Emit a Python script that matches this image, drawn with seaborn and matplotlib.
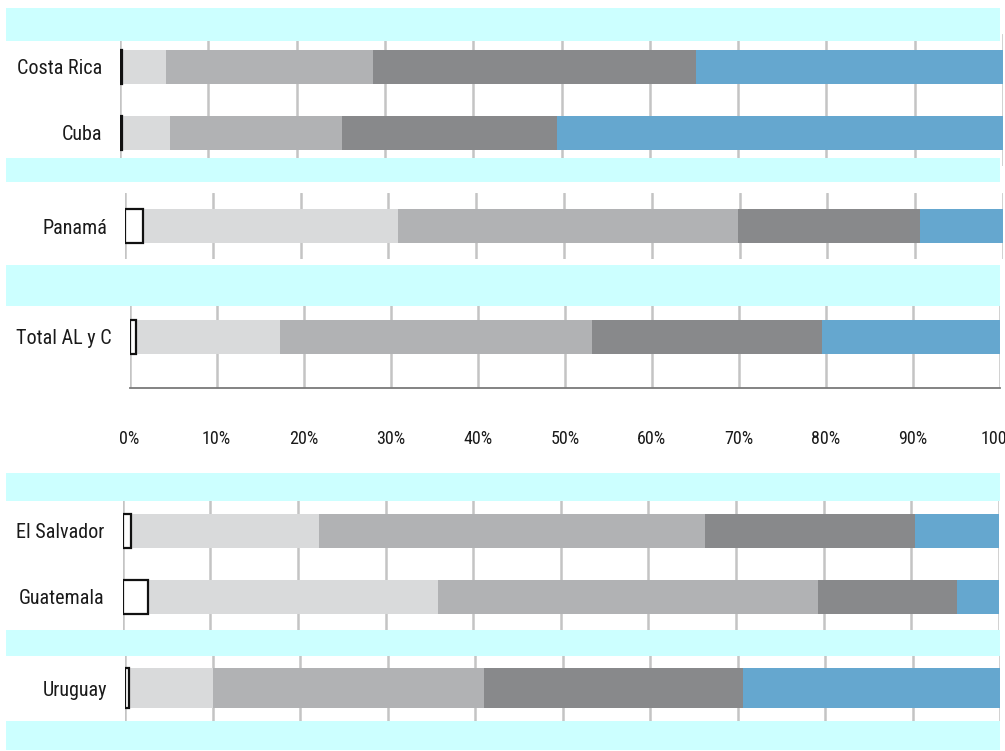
import matplotlib
matplotlib.use("Agg")
import matplotlib.pyplot as plt
from matplotlib.patches import Rectangle
from matplotlib import font_manager as fm
import seaborn as sns
import pandas as pd
import numpy as np

# ---------------- data (percent shares) ----------------
countries = ["Costa Rica", "Cuba", "Panamá", "Total AL y C",
             "El Salvador", "Guatemala", "Uruguay"]
panel_of = ["A", "A", "B", "C", "D", "D", "E"]
seg1 = [0.2, 0.2, 2.1, 0.7, 1.0, 2.9, 0.5]       # white (outlined)
seg2 = [5.0, 5.5, 29.0, 16.6, 21.4, 33.1, 9.5]   # light grey
seg3 = [23.5, 19.4, 38.7, 35.8, 44.1, 43.4, 31.0]  # mid grey
seg4 = [36.5, 24.4, 20.7, 26.4, 23.9, 15.8, 29.6]  # dark grey
seg5 = [34.8, 50.5, 9.5, 20.5, 9.6, 4.8, 29.4]   # blue
tick_values = [0, 10, 20, 30, 40, 50, 60, 70, 80, 90, 100]
tick_labels = ["0%", "10%", "20%", "30%", "40%", "50%", "60%", "70%", "80%", "90%", "100%"]

seg_colors = ["#ffffff", "#d9dadb", "#b1b2b4", "#88898b", "#65a7cf"]
cyan = "#ccffff"

# ---------------- font choice ----------------
sns.set_style("white")
names = {f.name for f in fm.fontManager.ttflist}
condensed = False
family = "Liberation Sans"
for cand in ["Roboto Condensed", "Liberation Sans Narrow", "Open Sans Condensed"]:
    if cand in names:
        family = cand
        condensed = True
        break
plt.rcParams["font.family"] = [family, "DejaVu Sans"]

label_size = 14.5 if condensed else 12.5
tick_size = 13.0 if condensed else 11.0

df = pd.DataFrame({"country": countries, "panel": panel_of,
                   "s1": seg1, "s2": seg2, "s3": seg3, "s4": seg4, "s5": seg5})
cum = df[["s1", "s2", "s3", "s4", "s5"]].cumsum(axis=1)
for i, c in enumerate(["c1", "c2", "c3", "c4", "c5"]):
    df[c] = cum.iloc[:, i]

W, H = 1005, 751
fig = plt.figure(figsize=(W / 100, H / 100), dpi=100)
fig.patch.set_facecolor("white")


def add_ax(x0, x1, ytop, ybot):
    return fig.add_axes([x0 / W, 1 - ybot / H, (x1 - x0) / W, (ybot - ytop) / H])


# panel layout in pixels: x0, x1, ytop, ybot, ylim, bar width
panels = {
    "A": dict(x=(120, 1003), y=(34, 166), ylim=(1.5, -0.5), bw=0.52),
    "B": dict(x=(125, 1003), y=(193, 259), ylim=(0.5, -0.5), bw=0.53),
    "C": dict(x=(129.5, 1000), y=(300, 388), ylim=(0.773, -0.56), bw=0.52),
    "D": dict(x=(122.7, 999), y=(498, 630), ylim=(1.5, -0.5), bw=0.51),
    "E": dict(x=(125, 1000), y=(655, 721), ylim=(0.5, -0.5), bw=0.61),
}

for key, p in panels.items():
    ax = add_ax(p["x"][0], p["x"][1], p["y"][0], p["y"][1])
    sub = df[df["panel"] == key]
    order = list(sub["country"])
    # draw cumulative layers from the full bar down to the first segment
    for j, col in enumerate(["c5", "c4", "c3", "c2"]):
        sns.barplot(data=sub, x=col, y="country", order=order, orient="h",
                    color=seg_colors[4 - j], width=p["bw"], linewidth=0,
                    saturation=1, ax=ax, zorder=2)
    sns.barplot(data=sub, x="c1", y="country", order=order, orient="h",
                color=seg_colors[0], width=p["bw"], linewidth=1.6,
                edgecolor="#111111", saturation=1, ax=ax, zorder=3)
    ax.set_xlim(0, 100)
    ax.set_ylim(*p["ylim"])
    ax.set_xlabel("")
    ax.set_ylabel("")
    ax.set_xticks(tick_values)
    ax.set_axisbelow(True)
    ax.grid(axis="x", color="#c4c4c4", linewidth=1.8)
    ax.grid(axis="y", visible=False)
    for s in ax.spines.values():
        s.set_visible(False)
    ax.tick_params(axis="y", length=0, pad=13, labelsize=label_size,
                   labelcolor="#1a1a1a")
    if key == "C":
        ax.set_xticklabels(tick_labels)
        ax.tick_params(axis="x", length=0, pad=30, labelsize=tick_size,
                       labelcolor="#1a1a1a")
        ax.spines["bottom"].set_visible(True)
        ax.spines["bottom"].set_color("#7a7a7a")
        ax.spines["bottom"].set_linewidth(1.3)
    else:
        ax.tick_params(axis="x", length=0, labelbottom=False)

# cyan separator bands
bands = [(8, 41), (158, 182), (265, 306), (473, 501), (630, 656), (721, 750)]
for (t, b) in bands:
    fig.add_artist(Rectangle((6 / W, 1 - b / H), (1000 - 6) / W, (b - t) / H,
                             transform=fig.transFigure, facecolor=cyan,
                             edgecolor="none", zorder=10))

fig.savefig("out.png", dpi=100)
